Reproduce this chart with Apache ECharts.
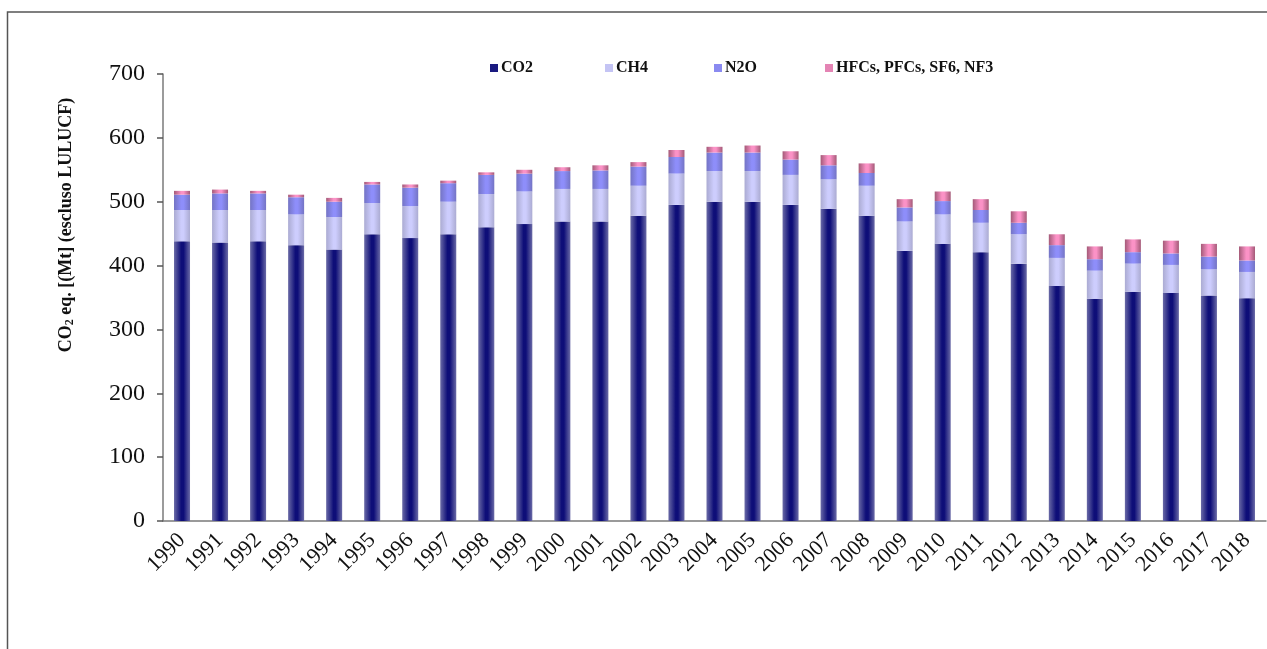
<!DOCTYPE html>
<html>
<head>
<meta charset="utf-8">
<script src="https://cdn.jsdelivr.net/npm/echarts@6/dist/echarts.min.js"></script>
<style>
  html, body { margin: 0; padding: 0; background: #fff; }
  #chart { width: 1267px; height: 649px; }
</style>
</head>
<body>
<div id="chart"></div>
<script>
var years = ['1990','1991','1992','1993','1994','1995','1996','1997','1998','1999',
  '2000','2001','2002','2003','2004','2005','2006','2007','2008','2009',
  '2010','2011','2012','2013','2014','2015','2016','2017','2018'];
var co2  = [438,436,438,432,425,449,443,449,460,465,469,469,478,495,500,500,495,489,478,423,434,421,403,368,348,359,357,353,349];
var ch4  = [49,51,49,48,51,49,50,51,52,51,51,51,47,49,48,48,47,46,47,46,46,46,46,44,44,44,44,41,41];
var n2o  = [24,26,26,27,24,29,29,29,30,28,28,29,30,26,29,29,24,22,20,22,21,20,18,20,18,18,18,20,18];
var fgas = [6,6,4,4,6,4,5,4,4,6,6,8,7,11,9,11,13,16,15,13,15,17,18,17,20,20,20,20,22];
var yTicks = [0,100,200,300,400,500,600,700];

// bars look like cylinders: lighter edges, full colour in the middle
function tube(edge, mid) {
  return new echarts.graphic.LinearGradient(0, 0, 1, 0, [
    {offset: 0, color: edge},
    {offset: 0.45, color: mid},
    {offset: 0.6, color: mid},
    {offset: 1, color: edge}
  ]);
}

var chart = echarts.init(document.getElementById('chart'));
var serif = 'Liberation Serif';

function bar(name, data, edge, mid, legendColor) {
  return {
    name: name,
    type: 'bar',
    stack: 'tot',
    barWidth: 16,
    data: data,
    itemStyle: { color: tube(edge, mid) },
    legendColor: legendColor
  };
}

var series = [
  bar('CO2', co2, '#6a6aa6', '#0e0e78', '#1a1a80'),
  bar('CH4', ch4, '#ababd2', '#cdcdfd', '#c4c4f4'),
  bar('N2O', n2o, '#7474c4', '#8e8efa', '#8a8af0'),
  bar('HFCs, PFCs, SF6, NF3', fgas, '#a45a78', '#fb92c6', '#e484b4')
];

// one legend per item, so the items sit where they sit in the original
var legendLeft = [485, 600, 709, 820];
var legends = series.map(function (s, i) {
  return {
    left: legendLeft[i],
    top: 55,
    itemWidth: 8,
    itemHeight: 8,
    itemGap: 4,
    icon: 'rect',
    textStyle: { fontFamily: serif, fontWeight: 'bold', fontSize: 16, color: '#111', padding: [0, 0, 0, -2] },
    data: [{ name: s.name, itemStyle: { color: s.legendColor } }]
  };
});

chart.setOption({
  animation: false,
  textStyle: { fontFamily: serif },
  grid: { left: 163, right: 1, top: 74, bottom: 128, containLabel: false },
  legend: legends,
  graphic: [
    {
      type: 'rect',
      shape: { x: 7.5, y: 12, width: 1400, height: 800 },
      style: { fill: 'none', stroke: '#555', lineWidth: 1.5 },
      silent: true
    },
    {
      type: 'text',
      x: 66,
      y: 225,
      rotation: Math.PI / 2,
      style: {
        text: '{a|CO}{s|2}{a| eq. [(Mt] (escluso LULUCF)}',
        align: 'center',
        verticalAlign: 'middle',
        rich: {
          a: { fontFamily: serif, fontWeight: 'bold', fontSize: 18, fill: '#111' },
          s: { fontFamily: serif, fontWeight: 'bold', fontSize: 12, fill: '#111', padding: [8, 0, 0, 0] }
        }
      }
    }
  ],
  xAxis: {
    type: 'category',
    data: years,
    axisLine: { lineStyle: { color: '#7a7a7a', width: 1.5 } },
    axisTick: { length: 6, lineStyle: { color: '#555', width: 1.5 } },
    axisLabel: { interval: 0, rotate: 45, fontSize: 22, color: '#111', margin: 16, fontFamily: serif }
  },
  yAxis: {
    type: 'value',
    min: 0,
    max: yTicks[yTicks.length - 1],
    interval: yTicks[1] - yTicks[0],
    axisLine: { show: true, lineStyle: { color: '#7a7a7a', width: 1.5 } },
    axisTick: { show: true, length: 6, lineStyle: { color: '#555', width: 1.5 } },
    splitLine: { show: false },
    axisLabel: { fontSize: 24, color: '#111', margin: 18, fontFamily: serif }
  },
  series: series
});
</script>
</body>
</html>
